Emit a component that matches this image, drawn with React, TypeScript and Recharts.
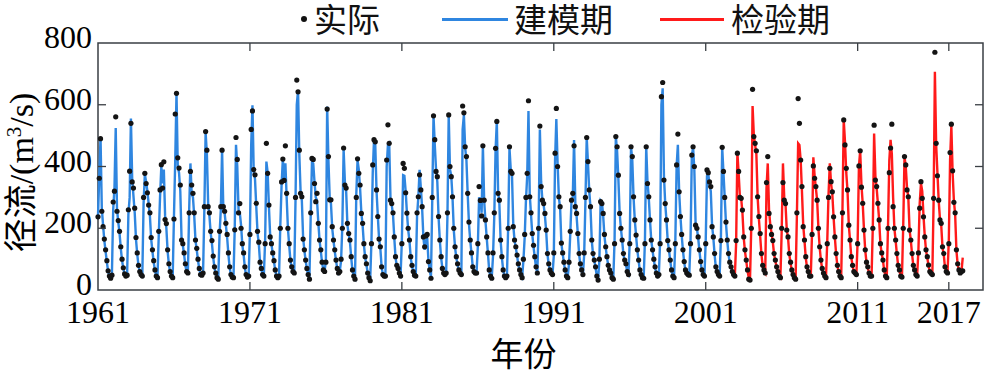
import { LineChart, Line, XAxis, YAxis, ReferenceArea } from 'recharts'

const startYear = 1961
const splitYear = 2003
const yearTicks = [1961, 1971, 1981, 1991, 2001, 2011, 2017]
const flowTicks = [0, 200, 400, 600, 800]

// monthly runoff, one row per year (m3/s)
const observed: number[][] = [
  [237, 362, 490, 255, 205, 165, 130, 95, 62, 45, 38, 48],
  [285, 320, 561, 255, 225, 190, 140, 100, 72, 52, 45, 48],
  [260, 385, 540, 350, 330, 265, 170, 120, 80, 60, 50, 45],
  [300, 378, 345, 315, 275, 250, 170, 130, 95, 65, 45, 40],
  [190, 324, 406, 330, 415, 228, 215, 130, 85, 60, 45, 40],
  [230, 570, 637, 428, 395, 340, 162, 150, 120, 85, 60, 55],
  [250, 384, 340, 313, 250, 162, 135, 100, 70, 50, 48, 55],
  [270, 513, 453, 270, 250, 190, 160, 110, 75, 55, 40, 35],
  [190, 270, 453, 270, 255, 216, 180, 120, 75, 50, 42, 40],
  [195, 494, 423, 250, 280, 200, 150, 120, 75, 50, 42, 45],
  [180, 520, 580, 390, 373, 281, 190, 155, 90, 70, 50, 45],
  [150, 475, 378, 275, 172, 150, 120, 95, 65, 45, 40, 45],
  [200, 350, 424, 355, 467, 313, 200, 150, 97, 75, 60, 55],
  [300, 680, 642, 453, 313, 302, 165, 130, 97, 70, 50, 35],
  [250, 426, 423, 345, 286, 313, 216, 162, 130, 90, 65, 60],
  [90, 586, 432, 292, 292, 205, 162, 130, 97, 70, 55, 60],
  [100, 200, 460, 340, 330, 216, 183, 162, 108, 65, 45, 35],
  [300, 425, 378, 340, 248, 216, 150, 108, 85, 55, 40, 30],
  [150, 405, 487, 480, 324, 238, 165, 140, 75, 50, 45, 45],
  [421, 535, 475, 291, 280, 250, 172, 108, 80, 70, 55, 45],
  [150, 410, 394, 315, 249, 200, 162, 108, 80, 60, 48, 45],
  [250, 302, 373, 324, 270, 172, 140, 175, 180, 92, 65, 38],
  [300, 564, 487, 384, 367, 238, 162, 108, 70, 55, 50, 55],
  [250, 567, 400, 367, 302, 200, 140, 108, 85, 65, 55, 50],
  [596, 574, 464, 432, 313, 220, 162, 120, 75, 60, 55, 55],
  [150, 335, 290, 240, 467, 291, 227, 172, 120, 65, 45, 38],
  [120, 250, 459, 546, 313, 291, 162, 108, 65, 45, 40, 45],
  [200, 464, 384, 378, 205, 162, 140, 113, 85, 65, 50, 40],
  [100, 180, 300, 378, 613, 302, 250, 183, 145, 108, 75, 55],
  [200, 531, 335, 291, 280, 248, 194, 118, 85, 65, 55, 50],
  [120, 443, 588, 400, 302, 270, 152, 120, 90, 65, 45, 40],
  [90, 190, 291, 313, 467, 270, 248, 183, 118, 85, 65, 50],
  [120, 300, 494, 416, 324, 270, 162, 118, 97, 75, 45, 32],
  [100, 286, 280, 248, 180, 140, 108, 80, 65, 55, 40, 35],
  [150, 497, 464, 372, 248, 200, 162, 118, 97, 85, 60, 50],
  [150, 464, 432, 302, 227, 178, 130, 97, 65, 50, 40, 38],
  [150, 464, 345, 302, 227, 162, 130, 100, 75, 55, 45, 50],
  [150, 626, 672, 356, 280, 227, 160, 130, 97, 65, 45, 40],
  [150, 405, 505, 318, 238, 180, 130, 92, 65, 55, 50, 48],
  [150, 437, 464, 400, 210, 200, 172, 130, 92, 65, 50, 45],
  [150, 389, 380, 350, 335, 205, 172, 118, 75, 60, 50, 45],
  [160, 462, 384, 300, 220, 162, 118, 90, 75, 60, 50, 45],
  [160, 443, 384, 300, 297, 259, 172, 130, 97, 65, 35, 32],
  [200, 650, 497, 475, 451, 302, 238, 183, 118, 80, 65, 55],
  [348, 432, 248, 205, 180, 160, 118, 97, 75, 60, 45, 40],
  [200, 348, 291, 280, 194, 172, 118, 90, 65, 50, 40, 35],
  [250, 620, 540, 421, 335, 205, 162, 108, 75, 60, 45, 45],
  [180, 402, 362, 335, 291, 200, 140, 97, 70, 55, 45, 40],
  [150, 300, 394, 351, 318, 237, 172, 118, 80, 60, 45, 40],
  [250, 551, 470, 394, 324, 210, 162, 108, 80, 60, 55, 50],
  [150, 402, 451, 333, 281, 194, 130, 90, 75, 55, 45, 45],
  [200, 534, 356, 335, 281, 227, 150, 120, 97, 65, 45, 40],
  [200, 380, 460, 537, 270, 200, 162, 118, 80, 65, 45, 42],
  [200, 432, 405, 324, 302, 194, 162, 118, 80, 65, 50, 45],
  [120, 265, 351, 297, 237, 172, 130, 108, 81, 60, 54, 50],
  [297, 770, 475, 370, 291, 227, 216, 140, 118, 75, 60, 55],
  [150, 445, 537, 386, 284, 250, 130, 85, 65, 55, 60, 62],
]

const simulated: number[][] = [
  [240, 370, 494, 265, 210, 160, 125, 90, 60, 46, 40, 52],
  [260, 330, 525, 262, 220, 185, 135, 95, 70, 50, 45, 50],
  [245, 300, 555, 360, 305, 250, 165, 115, 78, 58, 48, 45],
  [280, 375, 350, 320, 280, 240, 165, 125, 90, 62, 45, 42],
  [180, 300, 400, 345, 390, 240, 200, 125, 82, 58, 45, 42],
  [240, 420, 637, 400, 380, 320, 165, 145, 115, 80, 58, 55],
  [260, 410, 310, 300, 240, 160, 130, 95, 68, 50, 48, 58],
  [260, 510, 440, 280, 240, 185, 150, 105, 72, 52, 42, 38],
  [180, 260, 453, 260, 250, 210, 170, 115, 72, 50, 42, 40],
  [200, 470, 400, 260, 250, 210, 145, 115, 72, 48, 42, 45],
  [190, 470, 598, 380, 360, 270, 185, 150, 90, 68, 50, 48],
  [160, 416, 380, 270, 175, 148, 118, 92, 62, 45, 42, 48],
  [210, 340, 425, 350, 410, 300, 200, 145, 95, 72, 58, 55],
  [290, 600, 646, 440, 320, 290, 170, 128, 95, 68, 48, 38],
  [240, 415, 410, 350, 300, 290, 220, 160, 125, 88, 65, 62],
  [95, 594, 420, 300, 280, 200, 160, 125, 95, 68, 55, 62],
  [95, 210, 455, 350, 320, 210, 180, 155, 105, 62, 45, 38],
  [310, 420, 390, 330, 250, 210, 148, 105, 82, 55, 42, 35],
  [160, 380, 486, 470, 320, 240, 165, 135, 75, 50, 45, 48],
  [400, 470, 475, 300, 275, 245, 170, 105, 78, 68, 55, 48],
  [160, 372, 370, 320, 250, 195, 160, 105, 78, 60, 48, 47],
  [240, 300, 389, 330, 265, 170, 130, 160, 170, 95, 62, 42],
  [290, 564, 470, 390, 350, 235, 160, 105, 70, 55, 50, 58],
  [240, 567, 390, 370, 300, 195, 138, 105, 82, 62, 55, 52],
  [520, 567, 460, 420, 310, 215, 160, 118, 75, 60, 55, 58],
  [140, 300, 290, 250, 467, 290, 225, 170, 118, 62, 45, 40],
  [110, 240, 450, 546, 320, 280, 160, 105, 65, 45, 40, 48],
  [210, 460, 390, 370, 210, 160, 138, 110, 82, 62, 50, 42],
  [95, 170, 290, 370, 580, 310, 245, 180, 140, 105, 72, 55],
  [210, 520, 350, 290, 275, 240, 190, 115, 82, 62, 55, 52],
  [110, 420, 554, 410, 300, 265, 150, 118, 88, 62, 45, 42],
  [85, 180, 290, 300, 486, 280, 240, 180, 115, 82, 62, 50],
  [115, 290, 494, 410, 320, 265, 160, 115, 95, 72, 45, 35],
  [95, 290, 285, 240, 175, 138, 105, 80, 62, 52, 40, 38],
  [160, 497, 450, 360, 250, 200, 160, 115, 95, 82, 60, 52],
  [160, 464, 420, 300, 225, 175, 128, 95, 62, 50, 40, 40],
  [160, 464, 350, 300, 225, 160, 128, 98, 72, 55, 45, 52],
  [160, 600, 653, 370, 280, 225, 158, 128, 95, 62, 45, 42],
  [160, 400, 470, 320, 240, 178, 128, 90, 62, 55, 50, 50],
  [160, 430, 464, 390, 215, 200, 170, 128, 90, 62, 50, 47],
  [160, 370, 378, 340, 320, 210, 170, 115, 72, 58, 50, 47],
  [170, 462, 380, 300, 215, 160, 115, 88, 72, 58, 50, 45],
  [150, 445, 378, 300, 297, 250, 170, 125, 95, 62, 40, 38],
  [210, 596, 500, 470, 440, 300, 230, 175, 115, 78, 62, 55],
  [330, 410, 260, 210, 185, 155, 115, 95, 72, 58, 48, 42],
  [190, 410, 300, 280, 195, 170, 115, 88, 62, 50, 40, 38],
  [240, 475, 470, 420, 320, 210, 160, 105, 72, 58, 45, 47],
  [190, 430, 370, 330, 290, 200, 138, 95, 68, 55, 45, 42],
  [160, 310, 410, 345, 310, 235, 170, 115, 78, 58, 45, 42],
  [260, 551, 480, 380, 320, 210, 160, 105, 78, 60, 55, 52],
  [160, 400, 451, 340, 280, 195, 128, 88, 72, 55, 45, 47],
  [210, 507, 370, 330, 280, 225, 148, 118, 95, 62, 45, 42],
  [210, 420, 486, 440, 300, 200, 160, 115, 78, 62, 45, 44],
  [210, 432, 400, 330, 300, 195, 160, 115, 78, 62, 50, 47],
  [130, 280, 345, 320, 240, 175, 128, 105, 78, 60, 54, 52],
  [290, 707, 470, 380, 290, 230, 210, 138, 115, 72, 60, 57],
  [160, 420, 531, 380, 290, 245, 128, 82, 62, 55, 60, 105],
]

const splitIndex = (splitYear - startYear) * 12

const data = observed.flatMap((row, y) =>
  row.map((v, m) => {
    const t = y * 12 + m
    const s = simulated[y][m]
    return {
      t,
      actual: v,
      build: t < splitIndex ? s : null,
      check: t >= splitIndex - 1 ? s : null,
    }
  })
)

const xTicks = yearTicks.map(y => (y - startYear) * 12)

const PLOT_TOP = 43
const PLOT_LEFT = 98
const PLOT_RIGHT = 983
const TICK_LEN = 8

const serif = '"Liberation Serif", "Times New Roman", serif'
const cjk = '"Noto Sans CJK SC", sans-serif'
const frame = '#3a3f44'
const blue = '#2f86e0'
const red = '#ff1a1a'

function XTick(props: any) {
  const { x, y, payload } = props
  const inner = payload.value > 0
  return (
    <g>
      {inner && <line x1={x} y1={y} x2={x} y2={y - TICK_LEN} stroke={frame} strokeWidth={1.3} />}
      {inner && <line x1={x} y1={PLOT_TOP} x2={x} y2={PLOT_TOP + TICK_LEN} stroke={frame} strokeWidth={1.3} />}
      <text x={x} y={y} dy={33} textAnchor="middle" fontFamily={serif} fontSize={32} fill="#000">
        {startYear + Math.round(payload.value / 12)}
      </text>
    </g>
  )
}

function YTick(props: any) {
  const { x, y, payload } = props
  const inner = payload.value > 0 && payload.value < 800
  return (
    <g>
      {inner && <line x1={PLOT_LEFT} y1={y} x2={PLOT_LEFT + TICK_LEN} y2={y} stroke={frame} strokeWidth={1.3} />}
      {inner && <line x1={PLOT_RIGHT} y1={y} x2={PLOT_RIGHT - TICK_LEN} y2={y} stroke={frame} strokeWidth={1.3} />}
      <text x={x} y={y} dy={5} textAnchor="end" fontFamily={serif} fontSize={32} fill="#000">
        {payload.value}
      </text>
    </g>
  )
}

function YLabel(props: any) {
  const vb = props.viewBox
  const cy = vb.y + vb.height / 2 + 6
  return (
    <text transform={`translate(33, ${cy}) rotate(-90)`} textAnchor="middle" fontSize={34} fill="#000">
      <tspan fontFamily={cjk}>径流</tspan>
      <tspan fontFamily={serif}>/(m</tspan>
      <tspan fontFamily={serif} fontSize={21} dy={-12}>3</tspan>
      <tspan fontFamily={serif} dy={12}>/s)</tspan>
    </text>
  )
}

function XLabel(props: any) {
  const vb = props.viewBox
  return (
    <text x={vb.x + vb.width / 2 - 17} y={366} textAnchor="middle" fontFamily={cjk} fontSize={33} fill="#000">
      年份
    </text>
  )
}

function LegendBar() {
  const txt = {
    position: 'absolute' as const,
    top: 0,
    fontFamily: cjk,
    fontSize: 33,
    lineHeight: '36px',
    whiteSpace: 'nowrap' as const,
    color: '#111',
  }
  return (
    <div style={{ position: 'absolute', left: 0, top: 0, width: 1000, height: 40 }}>
      <div style={{ position: 'absolute', left: 301, top: 16, width: 6, height: 6, borderRadius: 3, background: '#111' }} />
      <div style={{ ...txt, left: 314 }}>实际</div>
      <div style={{ position: 'absolute', left: 442, top: 18, width: 66, height: 2.5, background: blue }} />
      <div style={{ ...txt, left: 514 }}>建模期</div>
      <div style={{ position: 'absolute', left: 660, top: 18, width: 64, height: 2.5, background: red }} />
      <div style={{ ...txt, left: 731 }}>检验期</div>
    </div>
  )
}

export default function App() {
  return (
    <div style={{ position: 'absolute', left: 0, top: 0, width: 1000, height: 375, background: '#fff' }}>
      <LineChart width={1000} height={375} data={data} margin={{ top: PLOT_TOP, right: 1000 - PLOT_RIGHT, bottom: 0, left: 0 }}>
        <XAxis
          dataKey="t"
          type="number"
          domain={[0, 699]}
          ticks={xTicks}
          tick={<XTick />}
          tickSize={0}
          tickMargin={0}
          height={85}
          axisLine={false}
          tickLine={false}
          label={<XLabel />}
        />
        <YAxis
          type="number"
          domain={[0, 800]}
          ticks={flowTicks}
          tick={<YTick />}
          tickSize={0}
          tickMargin={6}
          width={PLOT_LEFT}
          axisLine={false}
          tickLine={false}
          label={<YLabel />}
        />
        <ReferenceArea x1={0} x2={699} y1={0} y2={800} fill="none" stroke={frame} strokeWidth={1.5} />
        <Line dataKey="build" stroke={blue} strokeWidth={2.4} dot={false} isAnimationActive={false} />
        <Line dataKey="check" stroke={red} strokeWidth={2.4} dot={false} isAnimationActive={false} />
        <Line
          dataKey="actual"
          stroke="none"
          dot={{ r: 2.6, fill: '#141414', stroke: 'none' }}
          isAnimationActive={false}
        />
      </LineChart>
      <LegendBar />
    </div>
  )
}
